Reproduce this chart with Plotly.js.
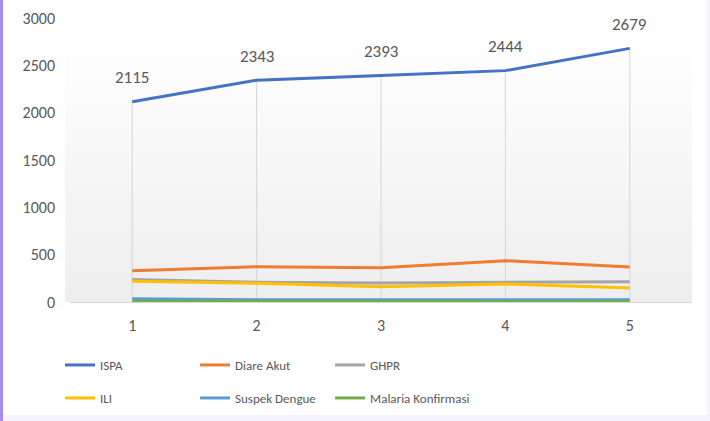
<!DOCTYPE html>
<html>
<head>
<meta charset="utf-8">
<script src="https://cdn.plot.ly/plotly-3.0.1.min.js"></script>
<style>
  html, body { margin: 0; padding: 0; width: 710px; height: 421px; overflow: hidden; background: #f5f3fd; }
  #strip { position: absolute; left: 0; top: 0; width: 3px; height: 421px; background: #a98cf3; }
  #chart { position: absolute; left: 3px; top: 0; width: 704px; height: 415px; background: #ffffff; }
</style>
</head>
<body>
<div id="strip"></div>
<div id="chart"></div>
<script>
const categories = [1, 2, 3, 4, 5];
const seriesNames = ["ISPA", "Diare Akut", "GHPR", "ILI", "Suspek Dengue", "Malaria Konfirmasi"];
const ispa = [2115, 2343, 2393, 2444, 2679];
const diareAkut = [330, 372, 362, 436, 370];
const ghpr = [238, 208, 200, 205, 215];
const ili = [218, 198, 162, 190, 148];
const suspekDengue = [35, 25, 24, 24, 24];
const malariaKonfirmasi = [8, 6, 6, 6, 6];
const seriesValues = [ispa, diareAkut, ghpr, ili, suspekDengue, malariaKonfirmasi];
const seriesColors = ["#4472C4", "#ED7D31", "#A5A5A5", "#FFC000", "#5B9BD5", "#70AD47"];
const seriesLegend = ["legend", "legend", "legend", "legend2", "legend2", "legend3"];

const FONT = "Carlito, Lato, 'Liberation Sans', sans-serif";
const TXT = "#595959";

// drop lines from the highest series down to the category axis
const dropX = [], dropY = [];
categories.forEach((c, i) => {
  const top = Math.max(...seriesValues.map(s => s[i]));
  dropX.push(c, c, null);
  dropY.push(0, top, null);
});

const traces = [{
  type: "scatter", mode: "lines",
  x: dropX, y: dropY,
  line: { color: "#d6d6d6", width: 1 },
  showlegend: false, hoverinfo: "skip"
}].concat(seriesNames.map((name, i) => ({
  type: "scatter",
  mode: "lines",
  name: name,
  x: categories,
  y: seriesValues[i],
  line: { color: seriesColors[i], width: 3 },
  legend: seriesLegend[i],
  hoverinfo: "skip"
})));

const annotations = categories.map((c, i) => ({
  x: c, y: ispa[i], xref: "x", yref: "y",
  text: String(ispa[i]), showarrow: false, yshift: 24,
  font: { family: FONT, size: 17, color: TXT }
}));

const grad = 'data:image/svg+xml;utf8,' + encodeURIComponent(
  '<svg xmlns="http://www.w3.org/2000/svg" width="100" height="100" preserveAspectRatio="none">' +
  '<defs><linearGradient id="g" x1="0" y1="0" x2="0" y2="1">' +
  '<stop offset="0" stop-color="#fefefe"/><stop offset="1" stop-color="#eeeeee"/>' +
  '</linearGradient></defs><rect width="100" height="100" fill="url(#g)"/></svg>');

const legendBase = {
  orientation: "h",
  xref: "paper", yref: "paper",
  xanchor: "left", yanchor: "middle",
  entrywidth: 90, entrywidthmode: "pixels",
  font: { family: FONT, size: 13, color: TXT },
  bgcolor: "rgba(0,0,0,0)",
  itemwidth: 30,
  tracegroupgap: 0
};
const row1 = -(365 - 302) / 284;
const row2 = -(398 - 302) / 284;

const layout = {
  width: 704, height: 415,
  margin: { l: 67, r: 15, t: 18, b: 113, autoexpand: false },
  paper_bgcolor: "#ffffff",
  plot_bgcolor: "rgba(0,0,0,0)",
  showlegend: true,
  font: { family: FONT, color: TXT },
  xaxis: {
    range: [0.5, 5.5],
    tickvals: categories,
    ticktext: categories.map(String),
    showgrid: false,
    zeroline: false,
    showline: true, linecolor: "#d9d9d9", linewidth: 1,
    ticks: "", ticklabelstandoff: 9,
    tickfont: { family: FONT, size: 16, color: TXT },
    fixedrange: true
  },
  yaxis: {
    range: [0, 3000],
    dtick: 500, tick0: 0,
    showgrid: false, zeroline: false, showline: false,
    ticks: "", ticklabelstandoff: 14,
    tickfont: { family: FONT, size: 16, color: TXT },
    fixedrange: true
  },
  legend: Object.assign({}, legendBase, { x: -0.016, y: row1 }),
  legend2: Object.assign({}, legendBase, { x: -0.016, y: row2 }),
  legend3: Object.assign({}, legendBase, { x: -0.016 + 270 / 622, y: row2, entrywidth: 0 }),
  annotations: annotations,
  images: [{
    source: grad, xref: "paper", yref: "paper",
    x: -0.008, y: 0.898, sizex: 1.008, sizey: 0.898,
    xanchor: "left", yanchor: "top", sizing: "stretch", layer: "below"
  }]
};

Plotly.newPlot("chart", traces, layout, { staticPlot: true, displayModeBar: false });
</script>
</body>
</html>
